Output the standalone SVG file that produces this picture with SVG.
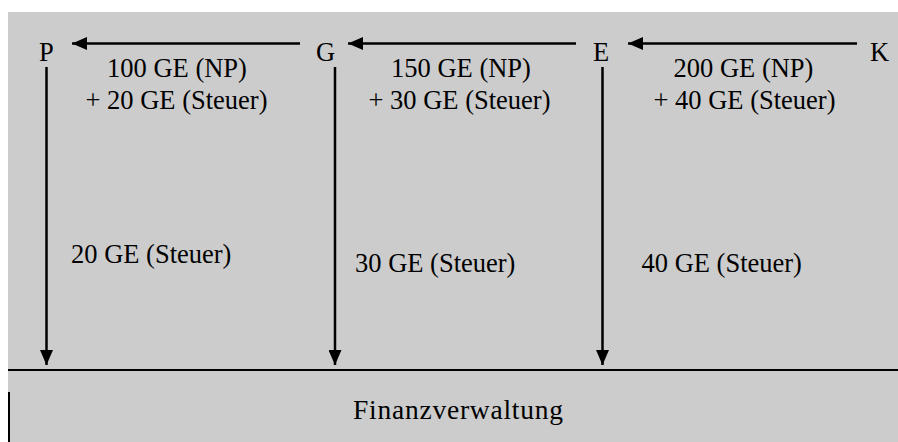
<svg xmlns="http://www.w3.org/2000/svg" width="898" height="442" viewBox="0 0 898 442">
<style>
text{font-family:"Liberation Serif","Times New Roman",serif;font-size:26.5px;fill:#000}
.c{text-anchor:middle}
.ln{stroke:#000;stroke-width:2.5;fill:none}
.bd{stroke:#000;stroke-width:2}
</style>
<defs>
<marker id="ah" viewBox="0 0 15 13" refX="15" refY="6.5" markerWidth="15" markerHeight="13" markerUnits="userSpaceOnUse" orient="auto">
<path d="M0,0 L15,6.5 L0,13 Z" fill="#000"/>
</marker>
</defs>
<rect x="0" y="0" width="898" height="442" fill="#fff"/>
<rect x="8" y="12" width="890" height="430" fill="#cccccc"/>
<g id="P"><text x="39" y="61">P</text></g>
<g id="G"><text x="316" y="61">G</text></g>
<g id="E"><text x="593" y="61">E</text></g>
<g id="K"><text x="870" y="61">K</text></g>
<g id="Finanzverwaltung">
<line class="bd" x1="8" y1="370" x2="898" y2="370"/>
<line class="bd" x1="9" y1="392" x2="9" y2="442"/>
<text x="353" y="419" style="font-size:27.5px" textLength="210">Finanzverwaltung</text>
</g>
<g id="connectors">
<line class="ln" x1="300" y1="43.5" x2="72" y2="43.5" marker-end="url(#ah)"/>
<line class="ln" x1="576" y1="43.5" x2="348" y2="43.5" marker-end="url(#ah)"/>
<line class="ln" x1="857" y1="43.5" x2="628" y2="43.5" marker-end="url(#ah)"/>
<line class="ln" x1="46.5" y1="67" x2="46.5" y2="365" marker-end="url(#ah)"/>
<line class="ln" x1="335" y1="67" x2="335" y2="365" marker-end="url(#ah)"/>
<line class="ln" x1="602.5" y1="67" x2="602.5" y2="365" marker-end="url(#ah)"/>
</g>
<g id="labels">
<text class="c" x="177" y="77">100 GE (NP)</text>
<text class="c" x="176.5" y="109">+ 20 GE (Steuer)</text>
<text class="c" x="461" y="77">150 GE (NP)</text>
<text class="c" x="459.5" y="109">+ 30 GE (Steuer)</text>
<text class="c" x="743.5" y="77">200 GE (NP)</text>
<text class="c" x="744.5" y="109">+ 40 GE (Steuer)</text>
<text x="71" y="263">20 GE (Steuer)</text>
<text x="355" y="272">30 GE (Steuer)</text>
<text x="641.5" y="272">40 GE (Steuer)</text>
</g>
</svg>
